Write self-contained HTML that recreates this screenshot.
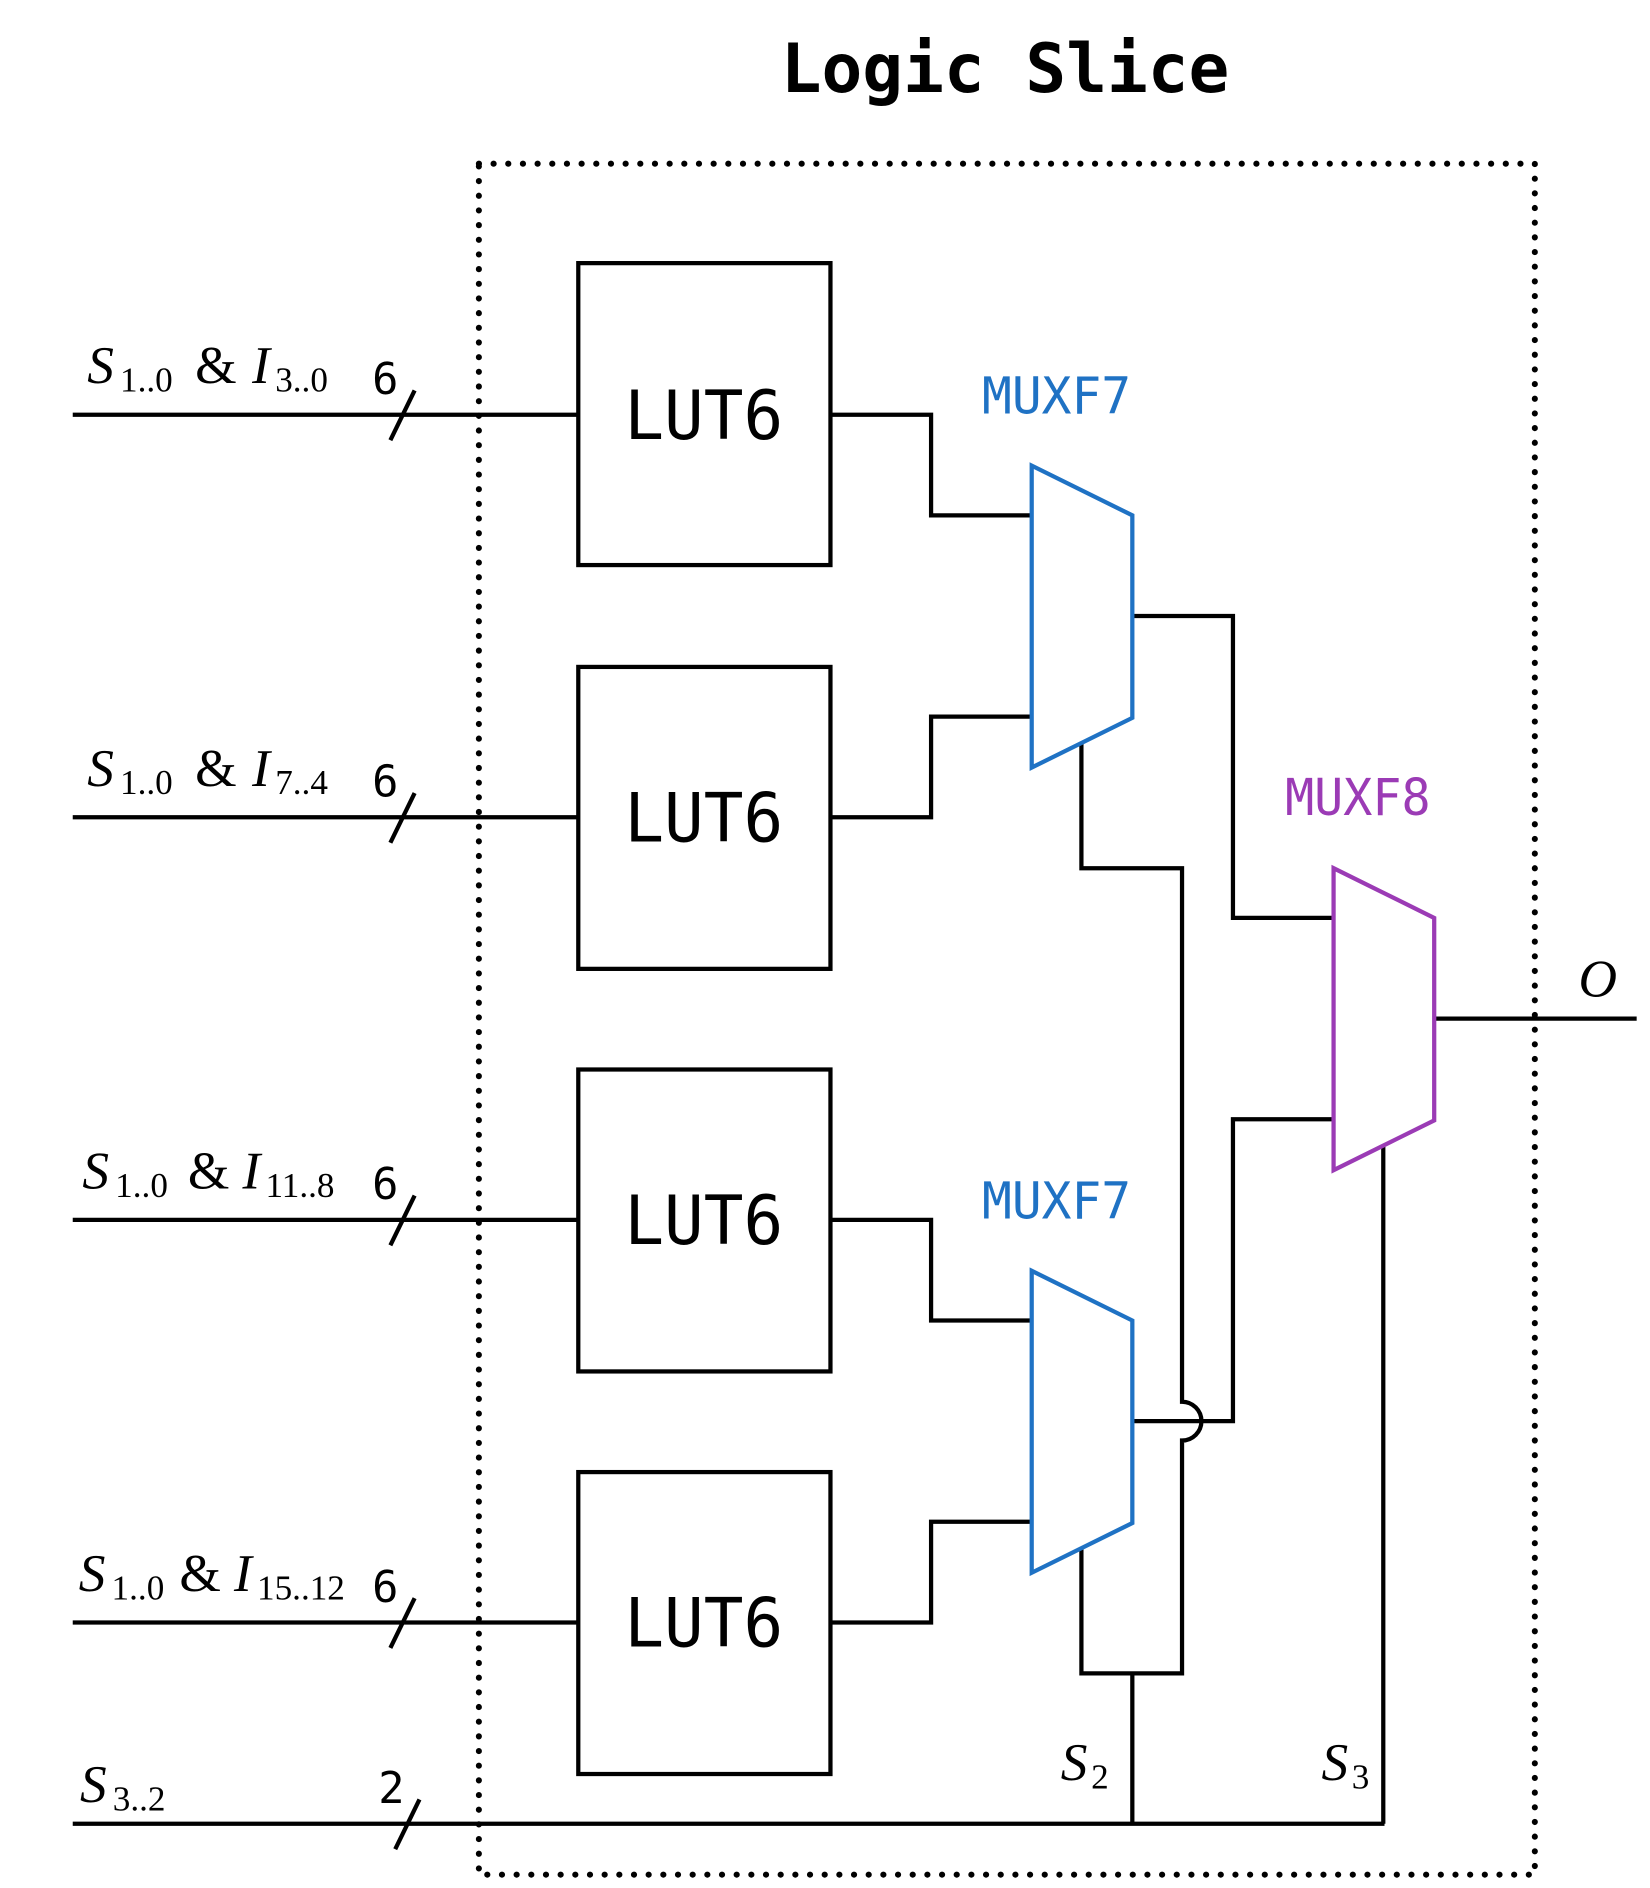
<!DOCTYPE html>
<html><head><meta charset="utf-8"><style>
html,body{margin:0;padding:0;background:#fff;}
svg{display:block;}
.m{font-family:"DejaVu Sans Mono","Liberation Mono",monospace;}
.t{font-family:"Liberation Serif",serif;font-style:italic;}
.r{font-family:"Liberation Serif",serif;font-style:normal;}
</style></head><body>
<svg width="1650" height="1888" viewBox="0 0 1361 1557" preserveAspectRatio="none" xmlns="http://www.w3.org/2000/svg">
<text x="829" y="76" class="m" font-size="56" font-weight="bold" text-anchor="middle" fill="#000" textLength="370" lengthAdjust="spacingAndGlyphs">Logic Slice</text>
<rect x="395" y="135" width="871" height="1411" fill="none" stroke="#000" stroke-width="5" stroke-dasharray="0.1 12" stroke-linecap="round"/>
<g fill="none" stroke="#000" stroke-width="3.5">
<rect x="477" y="217" width="208" height="249"/>
<rect x="477" y="550" width="208" height="249"/>
<rect x="477" y="882" width="208" height="249"/>
<rect x="477" y="1214" width="208" height="249"/>
<path d="M60 342H477M60 674H477M60 1006H477M60 1338H477M60 1504H1142"/>
<path d="M322 363L342 322M322 695L342 654M322 1027L342 986M322 1359L342 1318M326 1525L346 1484"/>
<path d="M685 342H768V425H851M685 674H768V591H851M685 1006H768V1089H851M685 1338H768V1255H851"/>
<path d="M934 508H1017V757H1100"/>
<path d="M934 1172H1017V923H1100"/>
<path d="M892 612V716H975V1156A16 16 0 0 1 975 1188V1380H892V1277M934 1380V1504"/>
<path d="M1141 945V1504M1183 840H1350"/>
</g>
<g fill="none" stroke="#1f72c4" stroke-width="3.5">
<path d="M851 384L934 425V592L851 633Z"/>
<path d="M851 1048L934 1089V1256L851 1297Z"/>
</g>
<path d="M1100 716L1183 757V924L1100 965Z" fill="none" stroke="#9b3bb5" stroke-width="3.5"/>
<g class="m" font-size="56" fill="#000">
<text x="515" y="362" textLength="131" lengthAdjust="spacingAndGlyphs">LUT6</text>
<text x="515" y="694" textLength="131" lengthAdjust="spacingAndGlyphs">LUT6</text>
<text x="515" y="1026" textLength="131" lengthAdjust="spacingAndGlyphs">LUT6</text>
<text x="515" y="1358" textLength="131" lengthAdjust="spacingAndGlyphs">LUT6</text>
</g>
<g class="m" font-size="42">
<text x="810" y="341" fill="#1f72c4" textLength="123" lengthAdjust="spacingAndGlyphs">MUXF7</text>
<text x="810" y="1005" fill="#1f72c4" textLength="123" lengthAdjust="spacingAndGlyphs">MUXF7</text>
<text x="1060" y="672" fill="#9b3bb5" textLength="120" lengthAdjust="spacingAndGlyphs">MUXF8</text>
</g>
<g class="m" font-size="36" fill="#000">
<text x="307" y="325">6</text><text x="307" y="657">6</text><text x="307" y="989">6</text><text x="307" y="1321">6</text><text x="312" y="1487">2</text>
</g>
<g font-size="44" fill="#000">
<text class="t" x="72" y="316">S</text><text class="r" x="99" y="323" font-size="29">1..0</text><text class="r" x="161" y="316">&amp;</text><text class="t" x="208" y="316">I</text><text class="r" x="227" y="323" font-size="29">3..0</text>
<text class="t" x="72" y="648">S</text><text class="r" x="99" y="655" font-size="29">1..0</text><text class="r" x="161" y="648">&amp;</text><text class="t" x="208" y="648">I</text><text class="r" x="227" y="655" font-size="29">7..4</text>
<text class="t" x="68" y="980">S</text><text class="r" x="95" y="987" font-size="29">1..0</text><text class="r" x="155" y="980">&amp;</text><text class="t" x="200" y="980">I</text><text class="r" x="219" y="987" font-size="29">11..8</text>
<text class="t" x="65" y="1312">S</text><text class="r" x="92" y="1319" font-size="29">1..0</text><text class="r" x="148" y="1312">&amp;</text><text class="t" x="193" y="1312">I</text><text class="r" x="212" y="1319" font-size="29">15..12</text>
<text class="t" x="66" y="1486">S</text><text class="r" x="93" y="1493" font-size="29">3..2</text>
<text class="t" x="875" y="1468">S</text><text class="r" x="900" y="1475" font-size="29">2</text>
<text class="t" x="1090" y="1468">S</text><text class="r" x="1115" y="1475" font-size="29">3</text>
<text class="t" x="1302" y="822">O</text>
</g>
</svg>
</body></html>
